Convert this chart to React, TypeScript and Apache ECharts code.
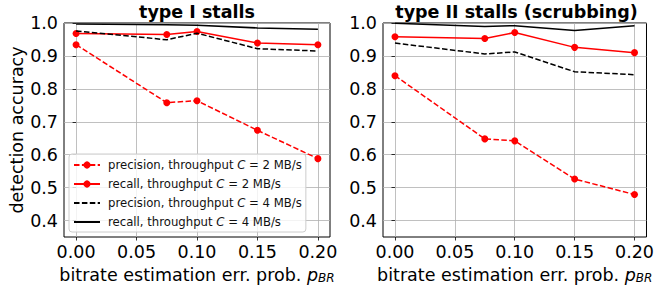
import React, { useEffect, useRef } from "react";
import * as echarts from "echarts";

const xValues = [0, 0.075, 0.1, 0.15, 0.2];
const xTicks = [0, 0.05, 0.1, 0.15, 0.2];
const yTicks = [0.4, 0.5, 0.6, 0.7, 0.8, 0.9, 1.0];

const titles = ["type I stalls", "type II stalls (scrubbing)"];
const seriesNames = [
  "precision, throughput C = 2 MB/s",
  "recall, throughput C = 2 MB/s",
  "precision, throughput C = 4 MB/s",
  "recall, throughput C = 4 MB/s",
];

const type1PrecisionC2 = [0.934, 0.758, 0.764, 0.674, 0.588];
const type1RecallC2 = [0.968, 0.965, 0.974, 0.939, 0.934];
const type1PrecisionC4 = [0.976, 0.949, 0.969, 0.922, 0.915];
const type1RecallC4 = [0.997, 0.995, 0.993, 0.985, 0.981];

const type2PrecisionC2 = [0.84, 0.648, 0.642, 0.526, 0.479];
const type2RecallC2 = [0.958, 0.953, 0.971, 0.926, 0.91];
const type2PrecisionC4 = [0.939, 0.906, 0.912, 0.852, 0.843];
const type2RecallC4 = [0.999, 0.989, 0.992, 0.977, 0.992];

const FONT = "DejaVu Sans";
const FS = 17.5;
const LFS = 11.7;

export default function App() {
  const ref = useRef<HTMLDivElement>(null);
  useEffect(() => {
    if (!ref.current) return;
    const chart = echarts.init(ref.current, undefined, { renderer: "svg" });
    const grids = [
      { left: 64, top: 23, width: 266, height: 214 },
      { left: 383, top: 23, width: 267, height: 214 },
    ];
    const panels = [
      [type1PrecisionC2, type1RecallC2, type1PrecisionC4, type1RecallC4],
      [type2PrecisionC2, type2RecallC2, type2PrecisionC4, type2RecallC4],
    ];
    const styles = [
      { color: "#ff0000", type: [5.5, 2.4], symbol: "circle" },
      { color: "#ff0000", type: "solid", symbol: "circle" },
      { color: "#000000", type: [5.5, 2.4], symbol: "none" },
      { color: "#000000", type: "solid", symbol: "none" },
    ];
    const series: any[] = [];
    panels.forEach((vals, gi) => {
      vals.forEach((v, si) => {
        const st = styles[si];
        series.push({
          type: "line",
          name: seriesNames[si],
          xAxisIndex: gi,
          yAxisIndex: gi,
          data: xValues.map((x, i) => [x, v[i]]),
          symbol: st.symbol,
          symbolSize: 7,
          showSymbol: st.symbol !== "none",
          lineStyle: { color: st.color, width: 1.5, type: st.type },
          itemStyle: { color: st.color },
          z: 3 + si,
        });
      });
    });
    const xAxes = grids.map((_, gi) => ({
      type: "value",
      gridIndex: gi,
      min: -0.01,
      max: 0.21,
      name: "bitrate estimation err. prob. {i|p}{sub|BR}",
      nameLocation: "middle",
      nameGap: 15,
      nameTextStyle: {
        fontFamily: FONT,
        fontSize: FS,
        color: "#000",
        verticalAlign: "top",
        rich: {
          i: { fontFamily: FONT, fontSize: FS, fontStyle: "italic", color: "#000" },
          sub: {
            fontFamily: FONT,
            fontSize: 12,
            fontStyle: "italic",
            color: "#000",
            verticalAlign: "bottom",
            lineHeight: 12,
          },
        },
      },
      axisLine: { show: false },
      axisTick: {
        show: true,
        customValues: xTicks,
        length: 3.5,
        lineStyle: { color: "#000", width: 0.8 },
      },
      axisLabel: {
        customValues: xTicks,
        formatter: (v: number) => v.toFixed(2),
        fontFamily: FONT,
        fontSize: FS,
        color: "#000",
        margin: 6,
      },
      splitLine: { show: true, lineStyle: { color: "#b0b0b0", width: 0.8 } },
    }));
    const yAxes = grids.map((_, gi) => ({
      type: "value",
      gridIndex: gi,
      min: 0.35,
      max: 1.0,
      name: gi === 0 ? "detection accuracy" : "",
      nameLocation: "middle",
      nameGap: 38,
      nameTextStyle: { fontFamily: FONT, fontSize: FS, color: "#000" },
      axisLine: { show: false },
      axisTick: {
        show: true,
        customValues: yTicks,
        length: 3.5,
        lineStyle: { color: "#000", width: 0.8 },
      },
      axisLabel: {
        customValues: yTicks,
        formatter: (v: number) => v.toFixed(1),
        fontFamily: FONT,
        fontSize: FS,
        color: "#000",
        margin: 6,
      },
      splitLine: { show: true, lineStyle: { color: "#b0b0b0", width: 0.8 } },
    }));
    chart.setOption({
      animation: false,
      title: titles.map((t, gi) => ({
        text: t,
        left: grids[gi].left + grids[gi].width / 2,
        textAlign: "center",
        textVerticalAlign: "top",
        top: 3,
        padding: 0,
        textStyle: { fontFamily: FONT, fontSize: FS, fontWeight: "bold", color: "#000" },
      })),
      grid: grids.map((g) => ({
        ...g,
        show: true,
        borderColor: "#000",
        borderWidth: 1,
        backgroundColor: "transparent",
      })),
      xAxis: xAxes,
      yAxis: yAxes,
      legend: {
        orient: "vertical",
        left: 69,
        top: 154,
        itemWidth: 26,
        itemHeight: 9,
        itemGap: 5,
        padding: [4, 4, 3, 4],
        backgroundColor: "rgba(255,255,255,0.8)",
        borderColor: "#cccccc",
        borderWidth: 1,
        borderRadius: 3,
        data: seriesNames.map((n, i) =>
          i >= 2 ? { name: n, itemStyle: { opacity: 0 } } : { name: n }
        ),
        formatter: (name: string) => name.replace("C =", "{i|C} ="),
        textStyle: {
          fontFamily: FONT,
          fontSize: LFS,
          color: "#111",
          lineHeight: 14,
          padding: [0, 0, 0, 3],
          rich: {
            i: { fontFamily: FONT, fontSize: LFS, fontStyle: "italic", color: "#111", lineHeight: 14 },
          },
        },
      },
      series,
    });
    return () => chart.dispose();
  }, []);
  return (
    <div
      ref={ref}
      style={{ position: "fixed", left: 0, top: 0, width: 657, height: 290, background: "#fff" }}
    />
  );
}
